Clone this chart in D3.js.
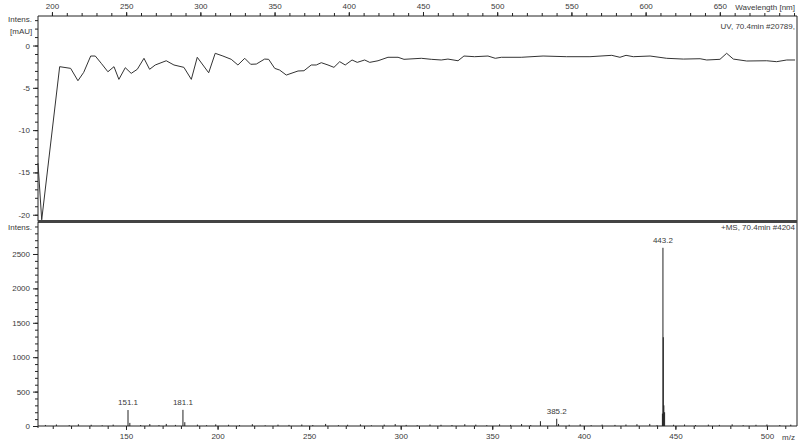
<html>
<head>
  <meta charset="utf-8">
  <style>
    body { margin: 0; background: #fff; }
    svg text { font-family: "Liberation Sans", Arial, sans-serif; font-size: 8px; fill: #3a3a3a; }
    svg .domain { stroke: #222; stroke-width: 1px; }
    svg .tick line { stroke: #222; }
    svg .tick text { font-family: "Liberation Sans", Arial, sans-serif; font-size: 8px; }
    svg .trace { fill: none; stroke: #333; stroke-width: 1px; }
    svg .stick { stroke: #222; stroke-width: 1px; }
  </style>
</head>
<body>
  <div id="chart"></div>
  <script src="https://d3js.org/d3.v7.min.js"></script>
  <script>
// UV trace, wavelength [nm] vs intensity [mAU]
var uvWave = [190.6, 193.1, 205.2, 212.6, 217.5, 221.4, 226.1, 229.2, 233.2, 237.7, 241.8, 245.1, 249.4,
  253.4, 257.5, 262.0, 265.8, 269.6, 277.0, 282.2, 288.9, 293.9, 297.9, 305.6, 310.0, 315.2, 320.8,
  325.3, 329.9, 333.9, 337.7, 343.3, 346.0, 350.1, 353.4, 357.9, 365.8, 369.8, 374.7, 378.1, 381.5,
  386.0, 390.0, 393.9, 397.6, 402.2, 405.7, 410.7, 414.1, 419.7, 426.4, 433.2, 437.2, 448.9, 455.6,
  462.3, 466.8, 473.6, 477.6, 484.8, 493.8, 498.7, 502.8, 516.2, 530.9, 546.8, 562.5, 577.2, 582.7,
  586.8, 591.7, 603.0, 614.2, 625.4, 636.7, 641.2, 650.1, 654.6, 659.1, 668.1, 681.6, 688.3, 695.1, 700.7];
var uvInt = [-13.9, -20.6, -2.5, -2.7, -4.16, -3.17, -1.24, -1.24, -2.1, -3.1, -2.5, -4.0, -2.62,
  -3.29, -2.81, -1.51, -2.81, -2.3, -1.8, -2.3, -2.58, -4.0, -1.39, -3.22, -0.92, -1.24, -1.63,
  -2.3, -1.51, -2.22, -2.19, -1.6, -1.63, -2.7, -2.9, -3.49, -3.01, -2.98, -2.3, -2.3, -2.03,
  -2.3, -2.58, -1.91, -2.3, -1.71, -1.99, -1.71, -1.99, -1.8, -1.39, -1.39, -1.63, -1.51, -1.63,
  -1.71, -1.6, -1.8, -1.24, -1.32, -1.24, -1.51, -1.39, -1.39, -1.24, -1.32, -1.32, -1.16, -1.39,
  -1.16, -1.32, -1.24, -1.51, -1.6, -1.56, -1.71, -1.63, -0.92, -1.6, -1.83, -1.8, -1.91, -1.71, -1.71];

// MS peaks, m/z vs intensity
var msMz  = [151.1, 152.1, 181.1, 182.1, 376.3, 385.2, 386.2, 442.9, 443.2, 443.4, 443.7, 444.1];
var msInt = [232, 45, 235, 55, 70, 105, 30, 180, 2590, 1290, 300, 200];
var peakLabels = ["151.1", "181.1", "385.2", "443.2"];
var labelMz = [151.1, 181.1, 385.2, 443.2];
var labelInt = [232, 235, 105, 2590];

// baseline noise
var noiseMz = [106,112,119,124,131,137,143,158,163,168,172,177,189,194,199,206,212,219,226,233,239,246,
  252,259,266,271,278,284,291,297,303,309,316,322,328,335,341,347,354,360,366,371,392,398,404,410,417,
  423,429,436,440,449,455,461,468,474,481,487,494,500,507,513];
var noiseInt = [15,22,12,25,18,10,20,14,28,12,30,16,20,12,24,18,14,26,10,20,16,22,14,30,12,18,24,10,
  20,28,16,12,22,18,14,26,20,12,24,16,28,14,18,24,12,20,16,22,26,30,12,18,22,14,20,16,24,12,18,22,14,20];

var uvTicks = [200, 250, 300, 350, 400, 450, 500, 550, 600, 650];
var uvYTicks = [0, -5, -10, -15, -20];
var msTicks = [150, 200, 250, 300, 350, 400, 450, 500];
var msYTicks = [0, 500, 1000, 1500, 2000, 2500];

(function () {
  var W = 800, H = 444;
  var left = 38, right = 797;
  var plain = function (d) { return String(d); };   // hyphen minus, no thousands comma

  var svg = d3.select("#chart").append("svg")
      .attr("width", W)
      .attr("height", H);

  // scales
  var xUV = d3.scaleLinear().domain([190.6, 702]).range([left, right]);
  var yUV = d3.scaleLinear().domain([3.49, -20.8]).range([16, 221.5]);
  var xMS = d3.scaleLinear().domain([101.95, 516.4]).range([left, right]);
  var yMS = d3.scaleLinear().domain([0, 2965]).range([426, 222]);

  // ---- top panel (UV) ----
  svg.append("g")
      .attr("transform", "translate(0,16)")
      .call(d3.axisTop(xUV).tickValues(d3.range(200, 701, 10)).tickSize(3).tickFormat(""))
      .call(function (g) { g.select(".domain").remove(); });
  svg.append("g")
      .attr("transform", "translate(0,16)")
      .call(d3.axisTop(xUV).tickValues(uvTicks).tickSize(4).tickSizeOuter(0).tickPadding(3).tickFormat(plain))
      .call(function (g) { g.select(".domain").attr("d", "M" + left + ",0H" + right); });

  svg.append("g")
      .attr("transform", "translate(" + left + ",0)")
      .call(d3.axisLeft(yUV).tickValues(d3.range(-20, 4, 1)).tickSize(3).tickFormat(""))
      .call(function (g) { g.select(".domain").remove(); });
  svg.append("g")
      .attr("transform", "translate(" + left + ",0)")
      .call(d3.axisLeft(yUV).tickValues(uvYTicks).tickSize(5).tickSizeOuter(0).tickPadding(3).tickFormat(plain))
      .call(function (g) { g.select(".domain").attr("d", "M0,16V221.5"); });

  // right frame
  svg.append("line")
      .attr("x1", right).attr("x2", right)
      .attr("y1", 16).attr("y2", 426)
      .style("stroke", "#222");

  var uvLine = d3.line()
      .x(function (d, i) { return xUV(uvWave[i]); })
      .y(function (d) { return yUV(d); });

  svg.append("path")
      .classed("trace", true)
      .attr("d", uvLine(uvInt));

  svg.append("text").attr("x", 8).attr("y", 22).text("Intens.");
  svg.append("text").attr("x", 10).attr("y", 34).text("[mAU]");
  svg.append("text").attr("x", 795).attr("y", 10).style("text-anchor", "end").text("Wavelength [nm]");
  svg.append("text").attr("x", 795).attr("y", 29).style("text-anchor", "end").text("UV, 70.4min #20789,");

  // divider
  svg.append("line")
      .attr("x1", left).attr("x2", right)
      .attr("y1", 221.5).attr("y2", 221.5)
      .style("stroke", "#444")
      .style("stroke-width", "3px");

  // ---- bottom panel (MS) ----
  svg.append("g")
      .attr("transform", "translate(0,426)")
      .call(d3.axisBottom(xMS).tickValues(d3.range(110, 516, 10)).tickSize(3).tickFormat(""))
      .call(function (g) { g.select(".domain").remove(); });
  svg.append("g")
      .attr("transform", "translate(0,426)")
      .call(d3.axisBottom(xMS).tickValues(msTicks).tickSize(4).tickSizeOuter(0).tickPadding(3).tickFormat(plain))
      .call(function (g) { g.select(".domain").attr("d", "M" + left + ",0H" + right); });

  svg.append("g")
      .attr("transform", "translate(" + left + ",0)")
      .call(d3.axisLeft(yMS).tickValues(d3.range(0, 2951, 100)).tickSize(3).tickFormat(""))
      .call(function (g) { g.select(".domain").remove(); });
  svg.append("g")
      .attr("transform", "translate(" + left + ",0)")
      .call(d3.axisLeft(yMS).tickValues(msYTicks).tickSize(5).tickSizeOuter(0).tickPadding(3).tickFormat(plain))
      .call(function (g) { g.select(".domain").attr("d", "M0,222V428"); });

  // noise sticks
  svg.append("g").selectAll("line")
    .data(noiseInt)
    .join("line")
      .classed("stick", true)
      .attr("x1", function (d, i) { return xMS(noiseMz[i]); })
      .attr("x2", function (d, i) { return xMS(noiseMz[i]); })
      .attr("y1", yMS(0))
      .attr("y2", function (d) { return yMS(d); });

  // peaks
  svg.append("g").selectAll("line")
    .data(msInt)
    .join("line")
      .classed("stick", true)
      .attr("x1", function (d, i) { return xMS(msMz[i]); })
      .attr("x2", function (d, i) { return xMS(msMz[i]); })
      .attr("y1", yMS(0))
      .attr("y2", function (d) { return yMS(d); });

  svg.append("g").selectAll("text")
    .data(peakLabels)
    .join("text")
      .attr("x", function (d, i) { return xMS(labelMz[i]); })
      .attr("y", function (d, i) { return yMS(labelInt[i]) - 5; })
      .style("text-anchor", "middle")
      .text(function (d) { return d; });

  svg.append("text").attr("x", 8).attr("y", 230).text("Intens.");
  svg.append("text").attr("x", 795).attr("y", 230).style("text-anchor", "end").text("+MS, 70.4min #4204");
  svg.append("text").attr("x", 795).attr("y", 440).style("text-anchor", "end").text("m/z");
})();
  </script>
</body>
</html>
